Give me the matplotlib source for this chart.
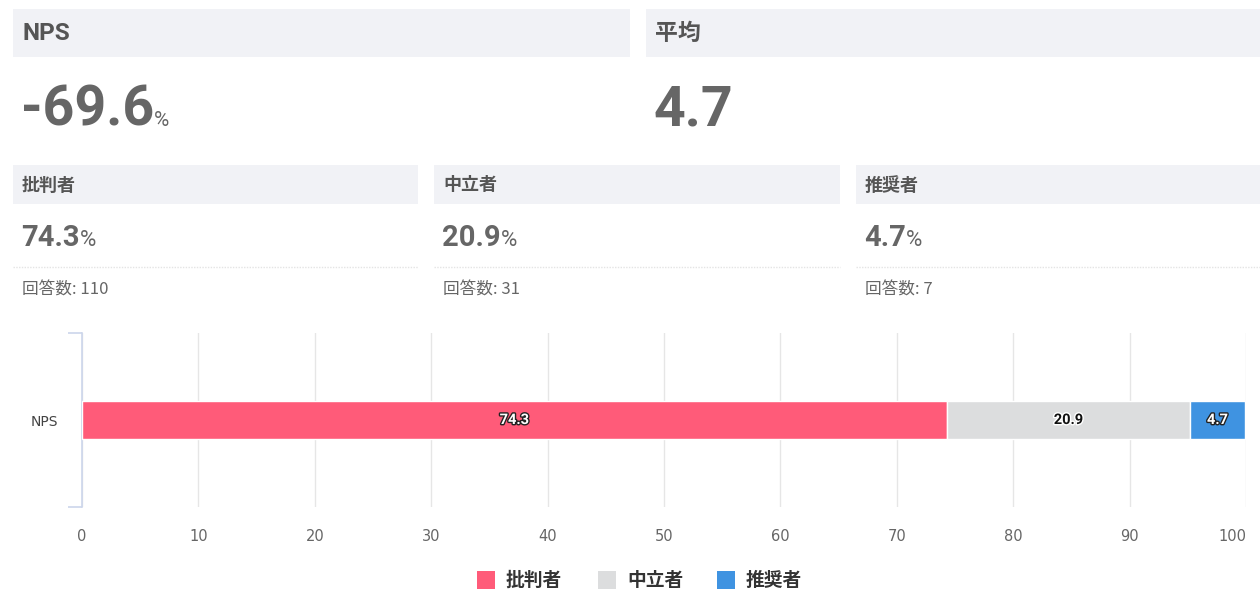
import matplotlib
matplotlib.use("Agg")
import matplotlib.pyplot as plt
import matplotlib.patheffects as pe
from matplotlib.patches import Rectangle
from matplotlib.lines import Line2D

# ---------------- data ----------------
categories = ["批判者", "中立者", "推奨者"]
shares = [74.3, 20.9, 4.7]
counts = [110, 31, 7]
bar_label = "NPS"
nps_value = "-69.6"
avg_value = "4.7"
colors = ["#ff5b79", "#dcddde", "#3f93e1"]
label_colors = ["white", "#111111", "white"]
label_outlines = ["#222222", "white", "#222222"]
xticks = [0, 10, 20, 30, 40, 50, 60, 70, 80, 90, 100]

W, H = 1260, 597
fig = plt.figure(figsize=(W / 100, H / 100), dpi=100)
fig.patch.set_facecolor("white")

CJK = ["Noto Sans CJK JP", "DejaVu Sans"]
NUM = ["Roboto", "DejaVu Sans"]
HEAD_BG = "#f1f2f6"


def fx(x):
    return x / W


def fy(y):
    return 1 - y / H


def box(x0, y0, x1, y1, color=HEAD_BG):
    fig.patches.append(Rectangle((fx(x0), fy(y1)), fx(x1) - fx(x0), fy(y0) - fy(y1),
                                 transform=fig.transFigure, facecolor=color,
                                 edgecolor="none", zorder=0))


def text(x, y, s, **kw):
    return fig.text(fx(x), fy(y), s, **kw)


renderer = fig.canvas.get_renderer()


def number_with_pct(x, y_base, s, size, pct_size, gap=1):
    t = text(x, y_base, s, family=NUM, fontsize=size, color="#666666",
             fontweight="bold", va="baseline", ha="left")
    bb = t.get_window_extent(renderer=renderer)
    xr = bb.x1 / fig.dpi * 100
    text(xr + gap, y_base, "%", family=NUM, fontsize=pct_size, color="#666666",
         va="baseline", ha="left")


# ---------------- top cards ----------------
box(13, 9, 630, 57)
box(646, 9, 1262, 57)
text(22, 33, "NPS", family=NUM, fontsize=17.5, fontweight="bold", color="#555555", va="center")
text(655, 33, "平均", family=CJK, fontsize=16.5, fontweight="bold", color="#555555", va="center")

number_with_pct(21, 126, nps_value, 40, 15, gap=0)
text(654, 126, avg_value, family=NUM, fontsize=40, color="#666666",
     fontweight="bold", va="baseline", ha="left")

card_x = [(13, 418), (434, 840), (856, 1262)]
for (x0, x1), cat, sh, cnt in zip(card_x, categories, shares, counts):
    box(x0, 165, x1, 204)
    text(x0 + 9, 185, cat, family=CJK, fontsize=13, fontweight="bold", color="#555555", va="center")
    number_with_pct(x0 + 8, 246, f"{sh:.1f}", 21, 16, gap=0)
    fig.lines.append(Line2D([fx(x0), fx(min(x1, 1260))], [fy(267), fy(267)],
                            transform=fig.transFigure, color="#e4e4e4", lw=1,
                            linestyle=(0, (1, 1))))
    text(x0 + 9, 290, f"回答数: {cnt}", family=CJK, fontsize=12, color="#666666", va="center")

# ---------------- bar chart ----------------
ax = fig.add_axes([fx(82), fy(507), fx(1246) - fx(82), fy(333) - fy(507)])
left = 0
for val, col, lc, lo in zip(shares, colors, label_colors, label_outlines):
    ax.barh(0, val, left=left, height=0.215, color=col, edgecolor="white", linewidth=1, zorder=3)
    ax.text(left + val / 2, 0, f"{val:.1f}", ha="center", va="center", fontsize=10.5,
            fontweight="bold", color=lc, family=NUM, zorder=4,
            path_effects=[pe.withStroke(linewidth=2, foreground=lo)])
    left += val

ax.set_xlim(0, 100)
ax.set_ylim(-0.5, 0.5)
ax.set_xticks(xticks)
ax.set_xticklabels([str(t) for t in xticks])
ax.tick_params(axis="x", length=0, pad=16, labelsize=10.5, labelcolor="#666666")
for lab in ax.get_xticklabels():
    lab.set_family(["DejaVu Sans"])
ax.get_xticklabels()[-1].set_ha("right")

ax.set_yticks([0])
ax.set_yticklabels([bar_label])
ax.set_yticks([-0.5, 0.5], minor=True)
ax.tick_params(axis="y", which="major", length=0, pad=17, labelsize=10, labelcolor="#444444")
ax.tick_params(axis="y", which="minor", length=10, width=1.2, color="#ccd6eb", direction="out")

for s in ["top", "right", "bottom"]:
    ax.spines[s].set_visible(False)
ax.spines["left"].set_color("#ccd6eb")
ax.spines["left"].set_linewidth(1.2)
ax.grid(axis="x", color="#e6e6e6", linewidth=1)
ax.set_axisbelow(True)
ax.set_facecolor("none")

# ---------------- legend ----------------
leg_sq = [477, 598, 717]
leg_tx = [506, 627, 746]
for sx, tx, cat, col in zip(leg_sq, leg_tx, categories, colors):
    fig.patches.append(Rectangle((fx(sx), fy(589)), fx(18), 18 / H,
                                 transform=fig.transFigure, facecolor=col, edgecolor="none"))
    text(tx, 580, cat, family=CJK, fontsize=13.5, fontweight="bold", color="#333333", va="center")

fig.savefig("out.png", dpi=100, facecolor="white")
